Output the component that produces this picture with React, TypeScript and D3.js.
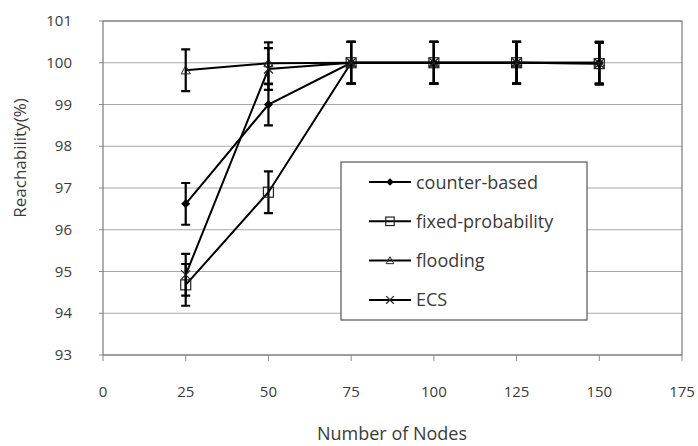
import React, { useRef, useEffect } from "react";
import * as d3 from "d3";

const W = 698;
const H = 446;
const PLOT = { left: 103, right: 682, top: 21, bottom: 355 };
const FONT = "'Open Sans', sans-serif";
const TEXT_COLOR = "#3a3a3a";

const nodes = [25, 50, 75, 100, 125, 150];
const counterBased = [96.62, 99.0, 100, 100, 100, 100];
const fixedProbability = [94.68, 96.9, 100, 100, 100, 99.98];
const flooding = [99.82, 99.99, 100, 100, 100, 100];
const ecs = [94.92, 99.85, 100, 100, 100, 99.98];
const errorMargin = [0.5, 0.5, 0.5, 0.5, 0.5, 0.5];

const xTicks = [0, 25, 50, 75, 100, 125, 150, 175];
const yTicks = [93, 94, 95, 96, 97, 98, 99, 100, 101];

const series = [
  { name: "counter-based", values: counterBased, marker: "diamond" },
  { name: "fixed-probability", values: fixedProbability, marker: "square" },
  { name: "flooding", values: flooding, marker: "triangle" },
  { name: "ECS", values: ecs, marker: "cross" },
];

function drawMarker(g: any, type: string, x: number, y: number, s = 1) {
  if (type === "diamond") {
    const r = 4.5 * s;
    g.append("path")
      .attr("d", `M${x},${y - r}L${x + r},${y}L${x},${y + r}L${x - r},${y}Z`)
      .attr("fill", "#000");
  } else if (type === "square") {
    const r = 5 * s;
    g.append("rect")
      .attr("x", x - r)
      .attr("y", y - r)
      .attr("width", 2 * r)
      .attr("height", 2 * r)
      .attr("fill", "none")
      .attr("stroke", "#222")
      .attr("stroke-width", 1.2);
  } else if (type === "triangle") {
    const r = 4.5 * s;
    g.append("path")
      .attr("d", `M${x},${y - r}L${x + r},${y + r * 0.8}L${x - r},${y + r * 0.8}Z`)
      .attr("fill", "none")
      .attr("stroke", "#222")
      .attr("stroke-width", 1);
  } else {
    const r = 4.5 * s;
    g.append("path")
      .attr("d", `M${x - r},${y - r}L${x + r},${y + r}M${x - r},${y + r}L${x + r},${y - r}`)
      .attr("stroke", "#222")
      .attr("stroke-width", 1.2);
  }
}

export default function App() {
  const svgRef = useRef<SVGSVGElement>(null);

  useEffect(() => {
    const svg = d3.select(svgRef.current);
    svg.selectAll("*").remove();

    const x = d3.scaleLinear().domain([0, 175]).range([PLOT.left, PLOT.right]);
    const y = d3.scaleLinear().domain([93, 101]).range([PLOT.bottom, PLOT.top]);

    svg.append("rect").attr("width", W).attr("height", H).attr("fill", "#fff");

    // Grid lines
    svg.append("g")
      .selectAll("line")
      .data(yTicks)
      .join("line")
      .attr("x1", PLOT.left)
      .attr("x2", PLOT.right)
      .attr("y1", (d) => y(d))
      .attr("y2", (d) => y(d))
      .attr("stroke", "#a8a8a8")
      .attr("stroke-width", 1);

    // Plot frame
    svg.append("rect")
      .attr("x", PLOT.left)
      .attr("y", PLOT.top)
      .attr("width", PLOT.right - PLOT.left)
      .attr("height", PLOT.bottom - PLOT.top)
      .attr("fill", "none")
      .attr("stroke", "#7a7a7a")
      .attr("stroke-width", 1.2);

    // X ticks + labels
    const xg = svg.append("g");
    xg.selectAll("line")
      .data(xTicks)
      .join("line")
      .attr("x1", (d) => x(d))
      .attr("x2", (d) => x(d))
      .attr("y1", PLOT.bottom)
      .attr("y2", PLOT.bottom + 6)
      .attr("stroke", "#8a8a8a");
    xg.selectAll("text")
      .data(xTicks)
      .join("text")
      .attr("x", (d) => x(d))
      .attr("y", 397)
      .attr("text-anchor", "middle")
      .attr("font-family", FONT)
      .attr("font-size", 15)
      .attr("fill", TEXT_COLOR)
      .text((d) => d);

    // Y ticks + labels
    const yg = svg.append("g");
    yg.selectAll("line")
      .data(yTicks)
      .join("line")
      .attr("x1", PLOT.left - 4)
      .attr("x2", PLOT.left)
      .attr("y1", (d) => y(d))
      .attr("y2", (d) => y(d))
      .attr("stroke", "#8a8a8a");
    yg.selectAll("text")
      .data(yTicks)
      .join("text")
      .attr("x", 72)
      .attr("y", (d) => y(d) + 5)
      .attr("text-anchor", "end")
      .attr("font-family", FONT)
      .attr("font-size", 15)
      .attr("fill", TEXT_COLOR)
      .text((d) => d);

    // Axis titles
    svg.append("text")
      .attr("x", 392)
      .attr("y", 440)
      .attr("text-anchor", "middle")
      .attr("font-family", FONT)
      .attr("font-size", 18)
      .attr("fill", TEXT_COLOR)
      .text("Number of Nodes");
    svg.append("text")
      .attr("transform", "translate(26,158) rotate(-90)")
      .attr("text-anchor", "middle")
      .attr("font-family", FONT)
      .attr("font-size", 17)
      .attr("fill", TEXT_COLOR)
      .text("Reachability(%)");

    // Series
    const line = d3
      .line<number>()
      .x((_, i) => x(nodes[i]))
      .y((d) => y(d));

    series.forEach((s) => {
      const g = svg.append("g");
      g.append("path")
        .datum(s.values)
        .attr("fill", "none")
        .attr("stroke", "#000")
        .attr("stroke-width", 2)
        .attr("d", line);

      s.values.forEach((v, i) => {
        const cx = x(nodes[i]);
        const lo = y(v - errorMargin[i]);
        const hi = y(v + errorMargin[i]);
        g.append("path")
          .attr("d", `M${cx},${hi}L${cx},${lo}M${cx - 4.5},${hi}L${cx + 4.5},${hi}M${cx - 4.5},${lo}L${cx + 4.5},${lo}`)
          .attr("stroke", "#000")
          .attr("stroke-width", 2.2)
          .attr("fill", "none");
        drawMarker(g, s.marker, cx, y(v));
      });
    });

    // Legend
    const legend = svg.append("g");
    legend.append("rect")
      .attr("x", 341)
      .attr("y", 162)
      .attr("width", 246)
      .attr("height", 158)
      .attr("fill", "#fff")
      .attr("stroke", "#555")
      .attr("stroke-width", 1.2);
    series.forEach((s, i) => {
      const ly = 182 + i * 39.3;
      legend.append("line")
        .attr("x1", 369)
        .attr("x2", 411)
        .attr("y1", ly)
        .attr("y2", ly)
        .attr("stroke", "#000")
        .attr("stroke-width", 2);
      drawMarker(legend, s.marker, 390, ly, 0.85);
      legend.append("text")
        .attr("x", 416)
        .attr("y", ly + 6.5)
        .attr("font-family", FONT)
        .attr("font-size", 18)
        .attr("fill", TEXT_COLOR)
        .text(s.name);
    });
  }, []);

  return (
    <div style={{ position: "absolute", left: 0, top: 0 }}>
      <svg ref={svgRef} width={W} height={H} style={{ display: "block" }} />
    </div>
  );
}
